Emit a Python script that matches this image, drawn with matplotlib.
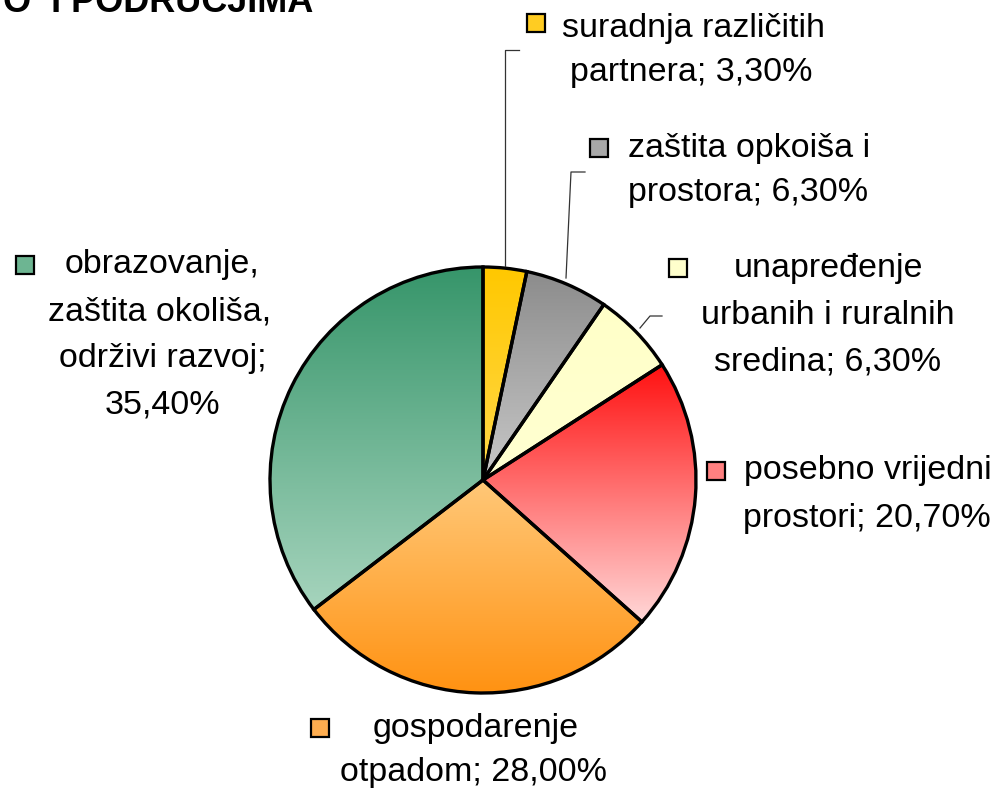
import numpy as np
import matplotlib
matplotlib.use("Agg")
import matplotlib.pyplot as plt
from matplotlib.colors import LinearSegmentedColormap
from matplotlib.patches import Rectangle

plt.rcParams["font.family"] = ["Liberation Sans", "DejaVu Sans"]

W, H = 1001, 791

# data (clockwise from 12 o'clock)
categories = ["suradnja različitih partnera", "zaštita opkoiša i prostora",
              "unapređenje urbanih i ruralnih sredina", "posebno vrijedni prostori",
              "gospodarenje otpadom", "obrazovanje, zaštita okoliša, održivi razvoj"]
shares = [3.3, 6.3, 6.3, 20.7, 28.0, 35.4]
label_lines = [
    ["suradnja različitih", "partnera; 3,30%"],
    ["zaštita opkoiša i", "prostora; 6,30%"],
    ["unapređenje", "urbanih i ruralnih", "sredina; 6,30%"],
    ["posebno vrijedni", "prostori; 20,70%"],
    ["gospodarenje", "otpadom; 28,00%"],
    ["obrazovanje,", "zaštita okoliša,", "održivi razvoj;", "35,40%"],
]
# gradient top -> bottom
grads = [("#ffc800", "#ffd84a"), ("#8c8c8c", "#c8c8c8"), ("#ffffc8", "#ffffd2"),
         ("#ff1010", "#ffd8d8"), ("#ffc878", "#ff9212"), ("#36956a", "#a6d4bd")]
key_colors = ["#ffcc22", "#a8a8a8", "#ffffcc", "#ff8080", "#ffae50", "#6db592"]


def py(y):
    return H - y


fig = plt.figure(figsize=(W / 100, H / 100), dpi=100)
ax = fig.add_axes([0, 0, 1, 1])
ax.set_axis_off()

cx, cy, r = 483, 480, 213
wedges, _ = ax.pie(shares, startangle=90, counterclock=False, center=(cx, py(cy)),
                   radius=r, wedgeprops=dict(edgecolor="black", linewidth=2.4))

for w, (c0, c1) in zip(wedges, grads):
    t = np.radians(np.linspace(w.theta1, w.theta2, 200))
    xs = np.concatenate([[cx], cx + r * np.cos(t)])
    ys = np.concatenate([[py(cy)], py(cy) + r * np.sin(t)])
    cmap = LinearSegmentedColormap.from_list("g", [c1, c0])
    img = ax.imshow(np.linspace(0, 1, 256).reshape(-1, 1), cmap=cmap, origin="lower",
                    extent=[xs.min(), xs.max(), ys.min(), ys.max()], aspect="auto",
                    zorder=1)
    img.set_clip_path(w)
    w.set_facecolor("none")
    w.set_zorder(2)

# leader lines
leaders = [[(505, 266), (505, 50), (519, 50)],
           [(566, 278), (571, 172), (585, 172)],
           [(640, 328), (650, 316), (662, 316)]]
for pts in leaders:
    ax.plot([p[0] for p in pts], [py(p[1]) for p in pts], color="#333333", lw=0.9, zorder=3)

fs = 24.5
# label layout: (key x, key y), list of (center x, y) per line
layout = [
    ((536, 23), [(693, 28), (691, 73)]),
    ((599, 148), [(749, 148), (748, 193)]),
    ((678, 268), [(828, 268), (828, 315), (828, 362)]),
    ((716, 471), [(868, 470), (867, 519)]),
    ((320, 728), [(476, 728), (474, 773)]),
    ((25, 265), [(162, 265), (160, 312), (163, 358), (162, 405)]),
]
for (kx, ky), pos, lines, kc in zip([l[0] for l in layout], [l[1] for l in layout],
                                   label_lines, key_colors):
    ax.add_patch(Rectangle((kx - 9, py(ky) - 9), 18, 18, facecolor=kc,
                           edgecolor="black", lw=1.6, zorder=4))
    for (tx, ty), s in zip(pos, lines):
        ax.text(tx, py(ty), s, ha="center", va="center", fontsize=fs, zorder=4)

# title, cut by the top edge as in the source
ax.text(313, py(12), "O  I PODRUČJIMA", ha="right", va="baseline",
        fontsize=26, fontweight="bold")

ax.set_xlim(0, W)
ax.set_ylim(0, H)
fig.savefig("out.png", dpi=100)
